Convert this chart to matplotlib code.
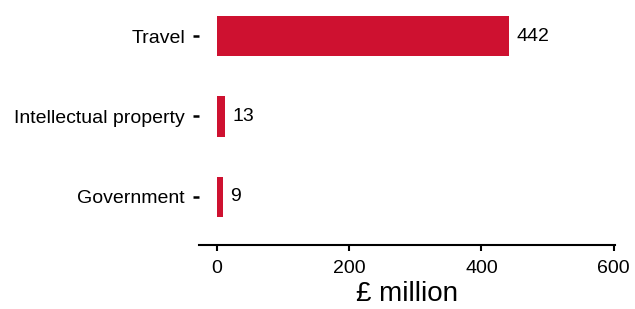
import matplotlib.pyplot as plt

categories = ["Government", "Intellectual property", "Travel"]
values = [9, 13, 442]
xticks = [0, 200, 400, 600]

plt.rcParams["font.family"] = ["Liberation Sans", "DejaVu Sans"]

fig = plt.figure(figsize=(6.35, 3.09), dpi=100)
ax = fig.add_axes([0.3134, 0.2071, 0.6551, 0.7929])

pos = range(len(categories))
ax.barh(pos, values, height=0.5, color="#CE1130")
for p, v in zip(pos, values):
    ax.annotate(str(v), (v, p), xytext=(5, 0), textcoords="offset points",
                va="center", ha="left", fontsize=14)

ax.set_yticks(list(pos))
ax.set_yticklabels(categories, fontsize=14)
ax.set_xticks(xticks)
ax.set_xticklabels([str(t) for t in xticks], fontsize=14)
ax.set_xlim(-27, 602)
ax.set_ylim(-0.6, 2.45)
ax.set_xlabel("£ million", fontsize=20, labelpad=3)

for s in ["top", "right", "left"]:
    ax.spines[s].set_visible(False)
ax.spines["bottom"].set_linewidth(1.5)
ax.tick_params(axis="y", length=4, width=1.8, pad=6)
ax.tick_params(axis="x", length=4, width=1.5, pad=7)

fig.savefig("out.png", dpi=100)
